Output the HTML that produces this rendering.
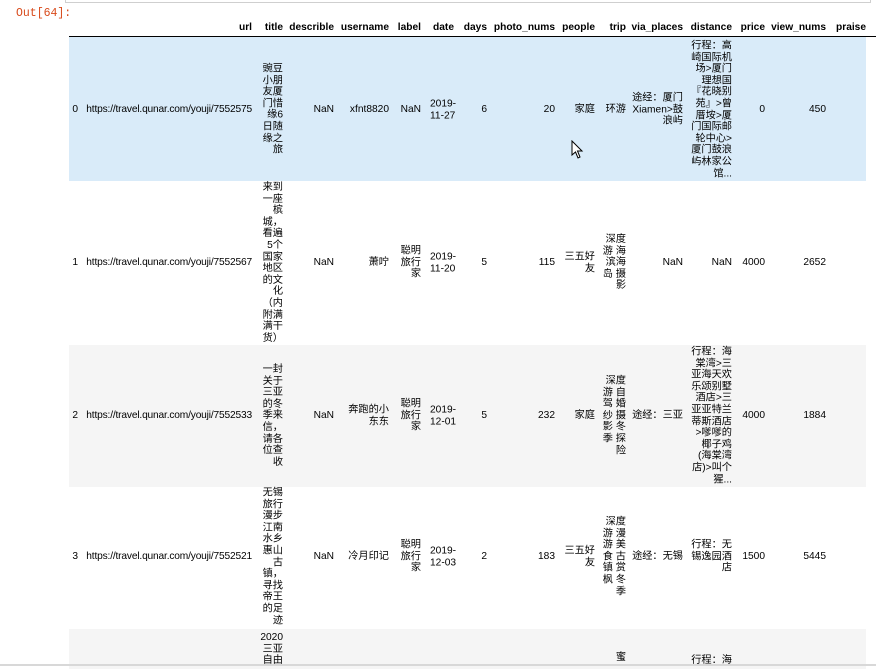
<!DOCTYPE html>
<html><head><meta charset="utf-8"><style>
body{margin:0;width:876px;height:666px;overflow:hidden;background:#fff;position:relative;font-family:"Liberation Sans","Noto Sans CJK SC",sans-serif;font-size:10.2px;color:#000}
.a{position:absolute}
.c{position:absolute;text-align:right;line-height:11.6px;transform:translateY(-50%);white-space:nowrap}
.u{letter-spacing:-0.17px}
.h{position:absolute;top:22px;font-weight:bold;font-size:10.2px;text-align:right;white-space:nowrap}
</style></head><body>
<div class="a" style="left:65px;top:-4px;width:804px;height:6px;border:1px solid #cfcfcf;border-top:none"></div>
<div class="a" style="left:16px;top:7px;color:#d84a1b;font-family:'Liberation Mono',monospace;font-size:11.5px">Out[64]:</div>
<div class="a" style="left:69px;top:36px;width:807px;height:1px;background:#000"></div>
<div class="a" style="left:69px;top:37px;width:797px;height:144px;background:#d9ebf9"></div>
<div class="a" style="left:69px;top:345px;width:797px;height:142px;background:#f5f5f5"></div>
<div class="a" style="left:69px;top:629px;width:797px;height:40px;background:#f5f5f5"></div>
<div class="a" style="left:0;top:664px;width:876px;height:2px;background:#d8d8d8"></div>

<div class="h" style="right:624px">url</div>
<div class="h" style="right:593px">title</div>
<div class="h" style="right:542px">describle</div>
<div class="h" style="right:487px">username</div>
<div class="h" style="right:455px">label</div>
<div class="h" style="right:422px">date</div>
<div class="h" style="right:389px">days</div>
<div class="h" style="right:321px">photo_nums</div>
<div class="h" style="right:281px">people</div>
<div class="h" style="right:250px">trip</div>
<div class="h" style="right:193px">via_places</div>
<div class="h" style="right:144px">distance</div>
<div class="h" style="right:111px">price</div>
<div class="h" style="right:50px">view_nums</div>
<div class="h" style="left:836px;text-align:left">praise</div>

<!-- row 0 -->
<div class="c" style="top:110px;right:798px">0</div>
<div class="c u" style="top:110px;right:624px">https://travel.qunar.com/youji/7552575</div>
<div class="c" style="top:110px;right:593px">豌豆<br>小朋<br>友厦<br>门惜<br>缘6<br>日随<br>缘之<br>旅</div>
<div class="c" style="top:110px;right:542px">NaN</div>
<div class="c" style="top:110px;right:487px">xfnt8820</div>
<div class="c" style="top:110px;right:455px">NaN</div>
<div class="c" style="top:110px;left:430px;text-align:left">2019-<br>11-27</div>
<div class="c" style="top:110px;right:389px">6</div>
<div class="c" style="top:110px;right:321px">20</div>
<div class="c" style="top:110px;right:281px">家庭</div>
<div class="c" style="top:110px;right:250px">环游</div>
<div class="c" style="top:110px;right:193px">途经：厦门<br>Xiamen&gt;鼓<br>浪屿</div>
<div class="c" style="top:110px;right:144px">行程：高<br>崎国际机<br>场&gt;厦门<br>理想国<br>『花晓别<br>苑』&gt;曾<br>厝垵&gt;厦<br>门国际邮<br>轮中心&gt;<br>厦门鼓浪<br>屿林家公<br>馆...</div>
<div class="c" style="top:110px;right:111px">0</div>
<div class="c" style="top:110px;right:50px">450</div>
<svg class="a" style="left:571px;top:140px" width="14" height="20"><path d="M1 1 L1 15 L4.5 12 L7 18 L9 17 L6.5 11 L11 11 Z" fill="#fff" stroke="#000" stroke-width="1"/></svg>

<!-- row 1 -->
<div class="c" style="top:263px;right:798px">1</div>
<div class="c u" style="top:263px;right:624px">https://travel.qunar.com/youji/7552567</div>
<div class="c" style="top:263px;right:593px">来到<br>一座<br>槟<br>城，<br>看遍<br>5个<br>国家<br>地区<br>的文<br>化<br>（内<br>附满<br>满干<br>货）</div>
<div class="c" style="top:263px;right:542px">NaN</div>
<div class="c" style="top:263px;right:487px">萧咛</div>
<div class="c" style="top:263px;right:455px">聪明<br>旅行<br>家</div>
<div class="c" style="top:263px;left:430px;text-align:left">2019-<br>11-20</div>
<div class="c" style="top:263px;right:389px">5</div>
<div class="c" style="top:263px;right:321px">115</div>
<div class="c" style="top:263px;right:281px">三五好<br>友</div>
<div class="c" style="top:263px;right:250px">深度<br>游 海<br>滨海<br>岛 摄<br>影</div>
<div class="c" style="top:263px;right:193px">NaN</div>
<div class="c" style="top:263px;right:144px">NaN</div>
<div class="c" style="top:263px;right:111px">4000</div>
<div class="c" style="top:263px;right:50px">2652</div>

<!-- row 2 -->
<div class="c" style="top:416px;right:798px">2</div>
<div class="c u" style="top:416px;right:624px">https://travel.qunar.com/youji/7552533</div>
<div class="c" style="top:416px;right:593px">一封<br>关于<br>三亚<br>的冬<br>季来<br>信，<br>请各<br>位查<br>收</div>
<div class="c" style="top:416px;right:542px">NaN</div>
<div class="c" style="top:416px;right:487px">奔跑的小<br>东东</div>
<div class="c" style="top:416px;right:455px">聪明<br>旅行<br>家</div>
<div class="c" style="top:416px;left:430px;text-align:left">2019-<br>12-01</div>
<div class="c" style="top:416px;right:389px">5</div>
<div class="c" style="top:416px;right:321px">232</div>
<div class="c" style="top:416px;right:281px">家庭</div>
<div class="c" style="top:416px;right:250px">深度<br>游 自<br>驾 婚<br>纱 摄<br>影 冬<br>季 探<br>险</div>
<div class="c" style="top:416px;right:193px">途经：三亚</div>
<div class="c" style="top:416px;right:144px">行程：海<br>棠湾&gt;三<br>亚海天欢<br>乐颂别墅<br>酒店&gt;三<br>亚亚特兰<br>蒂斯酒店<br>&gt;嗲嗲的<br>椰子鸡<br>(海棠湾<br>店)&gt;叫个<br>猩...</div>
<div class="c" style="top:416px;right:111px">4000</div>
<div class="c" style="top:416px;right:50px">1884</div>

<!-- row 3 -->
<div class="c" style="top:557px;right:798px">3</div>
<div class="c u" style="top:557px;right:624px">https://travel.qunar.com/youji/7552521</div>
<div class="c" style="top:557px;right:593px">无锡<br>旅行<br>漫步<br>江南<br>水乡<br>惠山<br>古<br>镇，<br>寻找<br>帝王<br>的足<br>迹</div>
<div class="c" style="top:557px;right:542px">NaN</div>
<div class="c" style="top:557px;right:487px">冷月印记</div>
<div class="c" style="top:557px;right:455px">聪明<br>旅行<br>家</div>
<div class="c" style="top:557px;left:430px;text-align:left">2019-<br>12-03</div>
<div class="c" style="top:557px;right:389px">2</div>
<div class="c" style="top:557px;right:321px">183</div>
<div class="c" style="top:557px;right:281px">三五好<br>友</div>
<div class="c" style="top:557px;right:250px">深度<br>游 漫<br>游 美<br>食 古<br>镇 赏<br>枫 冬<br>季</div>
<div class="c" style="top:557px;right:193px">途经：无锡</div>
<div class="c" style="top:557px;right:144px">行程：无<br>锡逸园酒<br>店</div>
<div class="c" style="top:557px;right:111px">1500</div>
<div class="c" style="top:557px;right:50px">5445</div>

<!-- row 4 partial -->
<div class="a" style="top:632px;right:593px;text-align:right;line-height:11.6px">2020<br>三亚<br>自由</div>
<div class="a" style="top:652px;right:250px;line-height:11.6px">蜜</div>
<div class="a" style="top:655px;right:144px;line-height:11.6px">行程：海</div>
</body></html>
